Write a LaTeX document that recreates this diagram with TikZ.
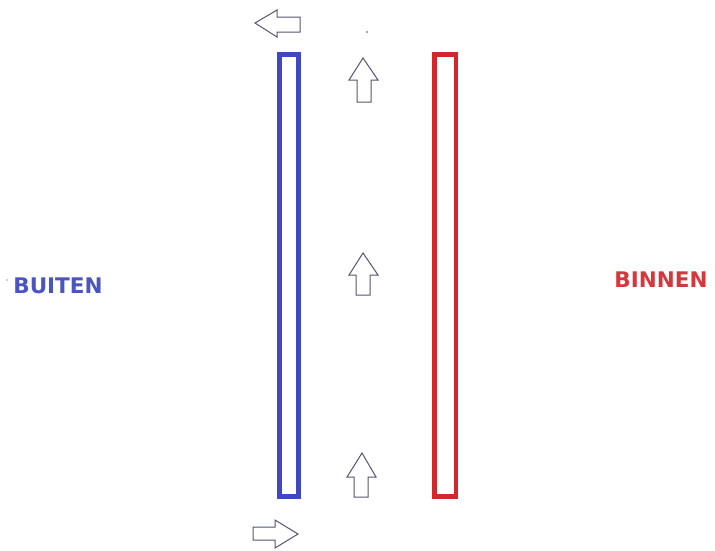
\documentclass[tikz,border=0pt]{standalone}
\usepackage{fontspec}
\setmainfont{DejaVu Sans}
\definecolor{wblue}{RGB}{63,72,190}
\definecolor{wred}{RGB}{210,40,45}
\definecolor{tblue}{RGB}{75,85,190}
\definecolor{tred}{RGB}{215,55,60}
\definecolor{agray}{RGB}{85,85,115}
\tikzset{
  wall/.style={line width=4.5pt},
  arr/.style={draw=agray, line width=1pt, line join=miter, fill=white},
  lbl/.style={font=\bfseries\fontsize{21.5}{21.5}\selectfont, inner sep=0pt},
}
\begin{document}
\begin{tikzpicture}[x=1pt,y=-1pt]
\useasboundingbox (0,0) rectangle (715,550);
\fill[white] (0,0) rectangle (715,550);
% walls
\draw[wall, draw=wblue] (279.5,54.5) rectangle (298.5,496.5) node[coordinate] (bw) {};
\draw[wall, draw=wred] (434.5,54.5) rectangle (456,496.5) node[coordinate] (rw) {};
% up arrows
\draw[arr] (363,58) -- (378,80) -- (371,80) -- (371,102) -- (357,102) -- (357,80) -- (349,80) -- cycle;
\draw[arr] (363,253) -- (378,275) -- (370,275) -- (370,295) -- (356,295) -- (356,275) -- (349,275) -- cycle;
\draw[arr] (362,453) -- (376,477) -- (368,477) -- (368,497) -- (354,497) -- (354,477) -- (347,477) -- cycle;
% top left arrow
\draw[arr] (255,23) -- (277,10) -- (277,17) -- (300,17) -- (300,32) -- (277,32) -- (277,37) -- cycle;
% bottom right arrow
\draw[arr] (298,534) -- (275,520) -- (275,527) -- (253,527) -- (253,540) -- (275,540) -- (275,548) -- cycle;
% specks
\fill[black!70] (367,32) circle (0.9);
\fill[tblue!60] (7,280) circle (0.8);
% labels
\node[lbl, text=tblue] (buiten) at (58,286) {BUITEN};
\node[lbl, text=tred] (binnen) at (661,280) {BINNEN};
\end{tikzpicture}
\end{document}
